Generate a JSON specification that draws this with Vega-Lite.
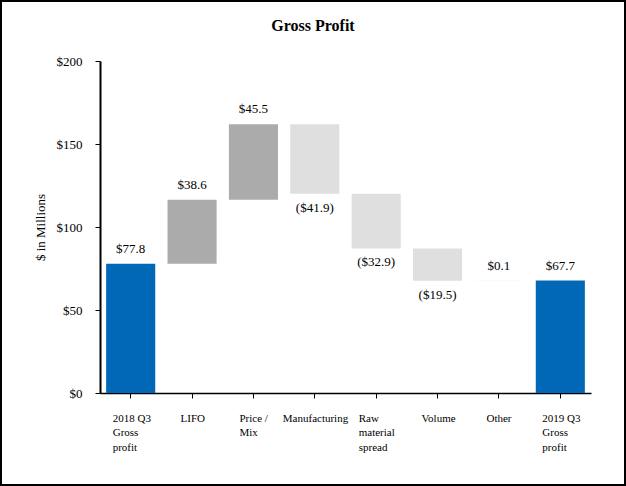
{
  "$schema": "https://vega.github.io/schema/vega-lite/v6.json",
  "width": 491,
  "height": 332,
  "autosize": "none",
  "padding": {"left": 100, "top": 61, "right": 35, "bottom": 93},
  "background": "white",
  "title": {
    "text": "Gross Profit",
    "font": "Liberation Serif",
    "fontSize": 16,
    "fontWeight": "bold",
    "color": "black",
    "anchor": "middle",
    "frame": "bounds",
    "baseline": "middle",
    "offset": -42
  },
  "data": {
    "values": [
      {"step": "2018 Q3 Gross profit", "start": 0, "end": 77.8, "label": "$77.8", "kind": "total"},
      {"step": "LIFO", "start": 77.8, "end": 116.4, "label": "$38.6", "kind": "up"},
      {"step": "Price / Mix", "start": 116.4, "end": 161.9, "label": "$45.5", "kind": "up"},
      {"step": "Manufacturing", "start": 161.9, "end": 120.0, "label": "($41.9)", "kind": "down"},
      {"step": "Raw material spread", "start": 120.0, "end": 87.1, "label": "($32.9)", "kind": "down"},
      {"step": "Volume", "start": 87.1, "end": 67.6, "label": "($19.5)", "kind": "down"},
      {"step": "Other", "start": 67.6, "end": 67.7, "label": "$0.1", "kind": "other"},
      {"step": "2019 Q3 Gross profit", "start": 0, "end": 67.7, "label": "$67.7", "kind": "total"}
    ]
  },
  "layer": [
    {
      "mark": {"type": "bar"},
      "encoding": {
        "x": {
          "field": "step",
          "type": "nominal",
          "sort": null,
          "title": null,
          "scale": {"paddingInner": 0.2, "paddingOuter": 0.1},
          "axis": {
            "labelAngle": 0,
            "labelExpr": "datum.value == '2018 Q3 Gross profit' ? ['2018 Q3', 'Gross', 'profit'] : datum.value == '2019 Q3 Gross profit' ? ['2019 Q3', 'Gross', 'profit'] : datum.value == 'Price / Mix' ? ['Price /', 'Mix'] : datum.value == 'Raw material spread' ? ['Raw', 'material', 'spread'] : datum.value",
            "labelAlign": "left",
            "labelOffset": {"expr": "datum.value == 'LIFO' ? -11.5 : datum.value == 'Price / Mix' ? -14 : datum.value == 'Manufacturing' ? -32 : datum.value == 'Raw material spread' ? -17.5 : datum.value == 'Volume' ? -16 : datum.value == 'Other' ? -12.5 : -18"},
            "labelBaseline": "top",
            "labelLineHeight": 14.5,
            "labelPadding": 14,
            "labelBound": false,
            "labelOverlap": false,
            "tickSize": 5,
            "labelFontSize": 11
          }
        },
        "y": {
          "field": "start",
          "type": "quantitative",
          "title": "$ in Millions",
          "scale": {"domain": [0, 200]},
          "axis": {
            "values": [0, 50, 100, 150, 200],
            "labelExpr": "'$' + datum.value",
            "grid": false,
            "tickSize": 5,
            "labelPadding": 13,
            "titlePadding": 9,
            "labelFontSize": 13,
            "titleFontSize": 13,
            "titleFontWeight": "normal"
          }
        },
        "y2": {"field": "end"},
        "color": {
          "field": "kind",
          "type": "nominal",
          "legend": null,
          "scale": {
            "domain": ["total", "up", "down", "other"],
            "range": ["#0068B6", "#ABABAB", "#DFDFDF", "#EEEEEE"]
          }
        }
      }
    },
    {
      "transform": [{"filter": "datum.kind != 'down'"}],
      "mark": {"type": "text", "baseline": "bottom", "dy": -8, "font": "Liberation Serif", "fontSize": 13, "color": "black"},
      "encoding": {
        "x": {"field": "step", "type": "nominal", "sort": null},
        "y": {"field": "end", "type": "quantitative"},
        "text": {"field": "label"}
      }
    },
    {
      "transform": [{"filter": "datum.kind == 'down'"}],
      "mark": {"type": "text", "baseline": "top", "dy": 8, "font": "Liberation Serif", "fontSize": 13, "color": "black"},
      "encoding": {
        "x": {"field": "step", "type": "nominal", "sort": null},
        "y": {"field": "end", "type": "quantitative"},
        "text": {"field": "label"}
      }
    },
    {
      "data": {"values": [{}]},
      "mark": {
        "type": "rect",
        "x": -99,
        "x2": {"expr": "width + 34"},
        "y": -60,
        "y2": {"expr": "height + 92"},
        "fill": null,
        "stroke": "black",
        "strokeWidth": 2,
        "clip": false
      },
      "encoding": {}
    }
  ],
  "config": {
    "font": "Liberation Serif",
    "view": {"stroke": null},
    "axis": {
      "domainColor": "black",
      "domainWidth": 2,
      "tickColor": "black",
      "labelColor": "black",
      "titleColor": "black",
      "labelFont": "Liberation Serif",
      "titleFont": "Liberation Serif"
    },
    "axisX": {"domainWidth": 1.5}
  }
}
